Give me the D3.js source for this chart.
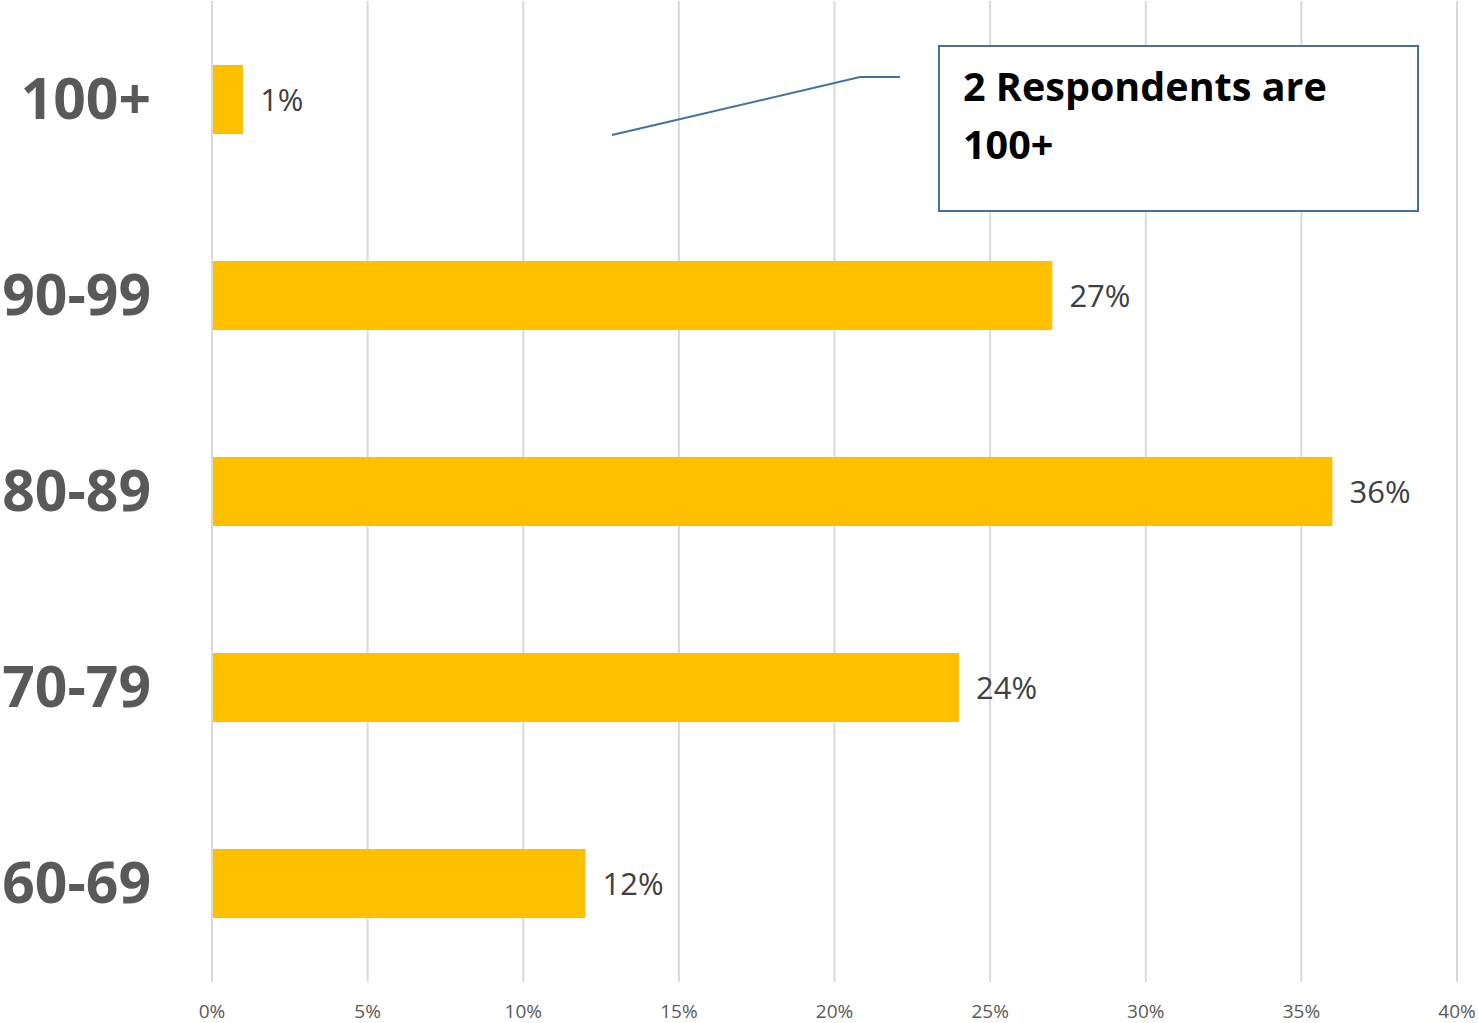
<!DOCTYPE html>
<html>
<head>
<meta charset="utf-8">
<script src="https://cdn.jsdelivr.net/npm/d3@7"></script>
<style>
  html, body { margin: 0; padding: 0; background: #fff; }
  svg { display: block; }
</style>
</head>
<body>
<svg id="chart" width="1478" height="1023"></svg>
<script>
// Age groups, top to bottom, and the share of respondents in each
const categories = ["100+", "90-99", "80-89", "70-79", "60-69"];
const shares = [0.01, 0.27, 0.36, 0.24, 0.12];
const tickValues = [0, 0.05, 0.10, 0.15, 0.20, 0.25, 0.30, 0.35, 0.40];
const noteLines = ["2 Respondents are", "100+"];

const svg = d3.select("#chart");
const font = "'Open Sans', 'Noto Sans', sans-serif";

const x = d3.scaleLinear().domain([0, 0.40]).range([212, 1457]);
const y = d3.scaleBand().domain(categories).range([1, 981]).paddingInner(0.653).paddingOuter(0.3265);

// vertical gridlines
svg.append("g").selectAll("line").data(tickValues).join("line")
  .attr("x1", d => x(d)).attr("x2", d => x(d))
  .attr("y1", 1).attr("y2", 982)
  .attr("stroke", "#d9d9d9").attr("stroke-width", 2);

// x-axis tick labels
const fmt = d3.format(".0%");
svg.append("g").selectAll("text").data(tickValues).join("text")
  .attr("x", d => x(d)).attr("y", 1018)
  .attr("text-anchor", "middle")
  .attr("font-family", font).attr("font-size", 19)
  .attr("fill", "#595959")
  .text(d => fmt(d));

const rows = categories.map((c, i) => ({ c, v: shares[i] }));

// bars
svg.append("g").selectAll("rect").data(rows).join("rect")
  .attr("x", x(0) + 1)
  .attr("y", d => y(d.c))
  .attr("width", d => x(d.v) - x(0) - 1)
  .attr("height", y.bandwidth() + 1)
  .attr("fill", "#ffc000");

// value labels
svg.append("g").selectAll("text").data(rows).join("text")
  .attr("x", d => x(d.v) + 17)
  .attr("y", d => y(d.c) + y.bandwidth() / 2 + 12)
  .attr("font-family", font).attr("font-size", 31)
  .attr("fill", "#404040")
  .text(d => fmt(d.v));

// category labels
svg.append("g").selectAll("text").data(rows).join("text")
  .attr("x", 151)
  .attr("y", d => y(d.c) + y.bandwidth() / 2 + 20)
  .attr("text-anchor", "end")
  .attr("font-family", font).attr("font-size", 57).attr("font-weight", 700)
  .attr("fill", "#595959")
  .text(d => d.c);

// callout leader and box
svg.append("path")
  .attr("d", "M612,135 L860,77 L900,77")
  .attr("fill", "none").attr("stroke", "#41719c").attr("stroke-width", 2);

svg.append("rect")
  .attr("x", 939).attr("y", 46).attr("width", 479).attr("height", 165)
  .attr("fill", "#fff").attr("stroke", "#41719c").attr("stroke-width", 2);

svg.append("g").selectAll("text").data(noteLines).join("text")
  .attr("x", 963)
  .attr("y", (d, i) => 101 + i * 58)
  .attr("font-family", font).attr("font-size", 39.5).attr("font-weight", 700)
  .attr("fill", "#000")
  .text(d => d);
</script>
</body>
</html>
